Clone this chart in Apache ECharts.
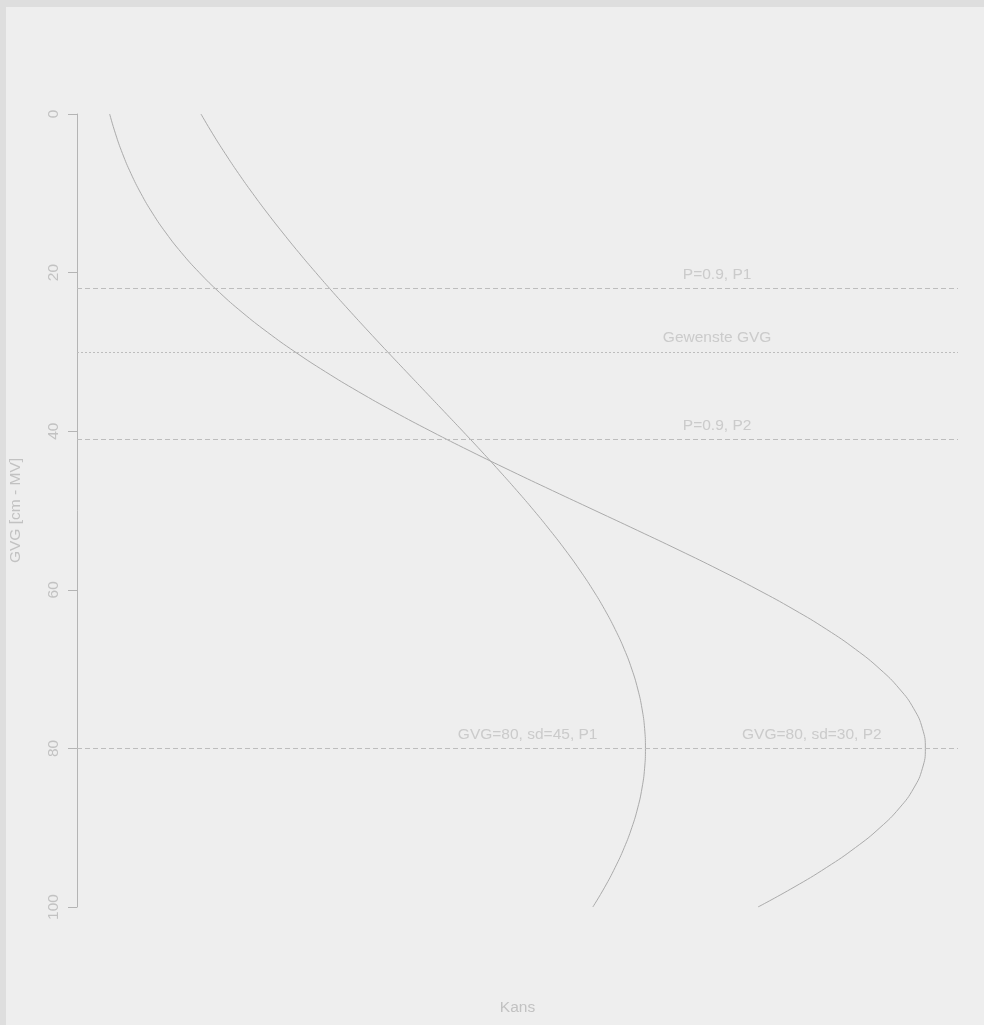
<!DOCTYPE html>
<html>
<head>
<meta charset="utf-8">
<script src="https://cdn.jsdelivr.net/npm/echarts@6/dist/echarts.min.js"></script>
<style>
html,body{margin:0;padding:0;background:#eeeeee;}
#chart{width:984px;height:1025px;}
</style>
</head>
<body>
<div id="chart"></div>
<script>
// GVG depth values (cm - MV) at which the curves are read
const gvg = [0,2.5,5,7.5,10,12.5,15,17.5,20,22.5,25,27.5,30,32.5,35,37.5,40,42.5,45,47.5,50,
             52.5,55,57.5,60,62.5,65,67.5,70,72.5,75,77.5,80,82.5,85,87.5,90,92.5,95,97.5,100];
// Kans curve P1: GVG=80, sd=45
const kansP1 = [0.001826,0.002012,0.002211,0.002421,0.002644,0.002878,0.003124,0.003379,0.003645,0.003919,0.004201,
                0.004489,0.004782,0.005079,0.005377,0.005675,0.005972,0.006265,0.006551,0.006830,0.007099,
                0.007355,0.007598,0.007824,0.008032,0.008220,0.008386,0.008530,0.008649,0.008743,0.008811,
                0.008852,0.008865,0.008852,0.008811,0.008743,0.008649,0.008530,0.008386,0.008220,0.008032];
// Kans curve P2: GVG=80, sd=30
const kansP2 = [0.000380,0.000473,0.000584,0.000717,0.000874,0.001058,0.001272,0.001518,0.001800,0.002119,0.002477,
                0.002876,0.003316,0.003797,0.004317,0.004875,0.005467,0.006088,0.006733,0.007395,0.008066,
                0.008736,0.009397,0.010038,0.010648,0.011218,0.011736,0.012192,0.012579,0.012889,0.013115,
                0.013252,0.013298,0.013252,0.013115,0.012889,0.012579,0.012192,0.011736,0.011218,0.010648];
// horizontal reference lines (GVG)
const dashedLines = [22, 41, 80];
const dottedLines = [30];
// text annotations: [kans, gvg, text]
const annotations = [
  [0.0100, 20, 'P=0.9, P1'],
  [0.0100, 28, 'Gewenste GVG'],
  [0.0100, 39, 'P=0.9, P2'],
  [0.0070, 78, 'GVG=80, sd=45, P1'],
  [0.0115, 78, 'GVG=80, sd=30, P2']
];
const yTicks = {min: 0, max: 100, interval: 20};
const xRange = {min: -0.000137, max: 0.013815};

const FONT = '"Liberation Sans", Arial, Helvetica, sans-serif';
const TXT = '#c2c2c2';

const chart = echarts.init(document.getElementById('chart'), null, {renderer: 'canvas'});
const option = {
  backgroundColor: '#eeeeee',
  animation: false,
  textStyle: {fontFamily: FONT},
  graphic: [
    {type: 'rect', shape: {x: 0, y: 0, width: 984, height: 7}, style: {fill: '#dedede'}, silent: true},
    {type: 'rect', shape: {x: 0, y: 0, width: 6, height: 1025}, style: {fill: '#dedede'}, silent: true}
  ],
  grid: {left: 77, right: 26, top: 114, bottom: 118, containLabel: false, outerBoundsMode: 'none'},
  xAxis: {
    type: 'value',
    min: xRange.min, max: xRange.max,
    axisLine: {show: false, onZero: false},
    axisTick: {show: false},
    axisLabel: {show: false},
    splitLine: {show: false},
    name: 'Kans',
    nameLocation: 'middle',
    nameGap: 93,
    nameTextStyle: {color: TXT, fontSize: 15.5, fontFamily: FONT}
  },
  yAxis: {
    type: 'value',
    inverse: true,
    min: yTicks.min, max: yTicks.max, interval: yTicks.interval,
    axisLine: {show: true, onZero: false, lineStyle: {color: '#b4b4b4', width: 1}},
    axisTick: {show: true, inside: false, length: 9, lineStyle: {color: '#b4b4b4', width: 1}},
    axisLabel: {show: true, rotate: 90, margin: 15, color: TXT, fontSize: 15.5, fontFamily: FONT},
    splitLine: {show: false},
    name: 'GVG [cm - MV]',
    nameLocation: 'middle',
    nameRotate: 90,
    nameGap: 53,
    nameTextStyle: {color: TXT, fontSize: 15.5, fontFamily: FONT}
  },
  series: [
    {
      type: 'line',
      name: 'P1',
      data: gvg.map((g, i) => [kansP1[i], g]),
      symbol: 'none',
      smooth: true,
      lineStyle: {color: '#aaaaaa', width: 1},
      markLine: {
        silent: true,
        symbol: 'none',
        label: {show: false},
        data: dashedLines.map(v => ({yAxis: v, lineStyle: {color: '#bdbdbd', width: 1, type: [5, 3]}}))
          .concat(dottedLines.map(v => ({yAxis: v, lineStyle: {color: '#bdbdbd', width: 1, type: [2, 2]}})))
      }
    },
    {
      type: 'line',
      name: 'P2',
      data: gvg.map((g, i) => [kansP2[i], g]),
      symbol: 'none',
      smooth: true,
      lineStyle: {color: '#aaaaaa', width: 1}
    },
    {
      type: 'scatter',
      data: annotations,
      symbolSize: 0,
      silent: true,
      label: {
        show: true,
        position: 'inside',
        offset: [0, 2],
        formatter: p => p.data[2],
        color: TXT,
        fontSize: 15.5,
        fontFamily: FONT
      }
    }
  ]
};
chart.setOption(option);
</script>
</body>
</html>
